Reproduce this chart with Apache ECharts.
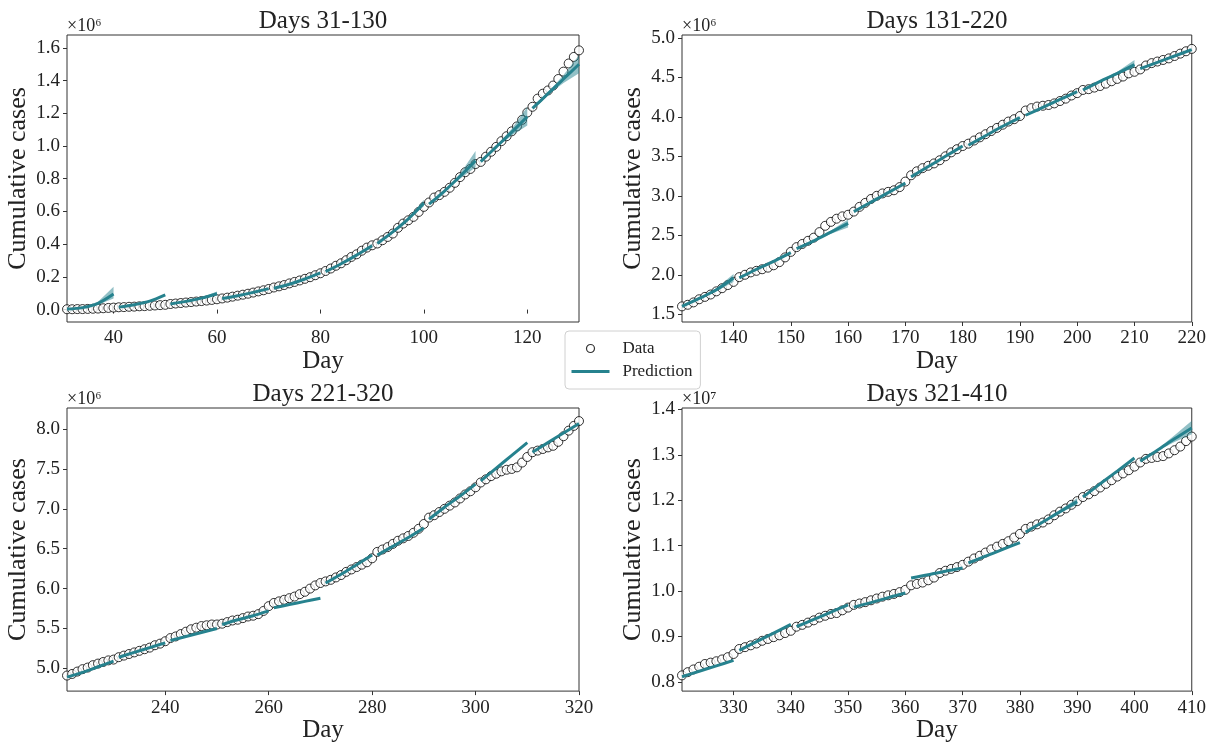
<!DOCTYPE html>
<html>
<head>
<meta charset="utf-8">
<script src="https://cdn.jsdelivr.net/npm/echarts@6/dist/echarts.min.js"></script>
<style>
  html, body { margin: 0; padding: 0; background: #fff; }
  #chart { width: 1209px; height: 744px; }
</style>
</head>
<body>
<div id="chart"></div>
<script>
var teal = '#26828e';
var serif = 'Liberation Serif';
var txt = '#222';

// days of every prediction point inside a 10 day window
var offs = [0, 3, 6, 9];

// ---- panel 1 : days 31-130 (x1e6) ----
var start1 = 31;
var cases1 = [
  0.002, 0.002, 0.003, 0.003, 0.004, 0.005, 0.006, 0.008, 0.010, 0.012,
  0.014, 0.015, 0.017, 0.018, 0.020, 0.021, 0.023, 0.025, 0.027, 0.029,
  0.034, 0.037, 0.040, 0.043, 0.046, 0.049, 0.052, 0.055, 0.059, 0.063,
  0.068, 0.073, 0.079, 0.085, 0.091, 0.097, 0.104, 0.111, 0.118, 0.126,
  0.135, 0.142, 0.150, 0.160, 0.169, 0.178, 0.188, 0.198, 0.210, 0.222,
  0.236, 0.251, 0.268, 0.283, 0.302, 0.322, 0.338, 0.360, 0.379, 0.393,
  0.404, 0.424, 0.444, 0.465, 0.500, 0.526, 0.546, 0.567, 0.597, 0.628,
  0.655, 0.685, 0.700, 0.720, 0.745, 0.775, 0.810, 0.840, 0.860, 0.890,
  0.903, 0.935, 0.965, 0.995, 1.030, 1.060, 1.090, 1.120, 1.160, 1.205,
  1.240, 1.290, 1.320, 1.340, 1.370, 1.410, 1.455, 1.505, 1.545, 1.585
];
var predStart1 = [31, 41, 51, 61, 71, 81, 91, 101, 111, 121];
var pred1 = [
  [0.003, 0.012, 0.038, 0.095],
  [0.015, 0.030, 0.052, 0.090],
  [0.034, 0.050, 0.070, 0.097],
  [0.068, 0.085, 0.105, 0.128],
  [0.130, 0.155, 0.187, 0.224],
  [0.232, 0.280, 0.333, 0.390],
  [0.404, 0.475, 0.555, 0.650],
  [0.645, 0.725, 0.815, 0.910],
  [0.905, 0.995, 1.085, 1.180],
  [1.230, 1.320, 1.410, 1.500]
];
var bandLo1 = [
  [0.003, 0.011, 0.030, 0.068], null, [0.034, 0.049, 0.066, 0.087], null, null,
  [0.232, 0.279, 0.330, 0.378], [0.404, 0.474, 0.550, 0.632], [0.645, 0.724, 0.800, 0.870],
  [0.905, 0.990, 1.065, 1.125], [1.230, 1.312, 1.385, 1.445]
];
var bandHi1 = [
  [0.003, 0.013, 0.048, 0.140], null, [0.034, 0.051, 0.074, 0.110], null, null,
  [0.232, 0.281, 0.336, 0.402], [0.404, 0.476, 0.560, 0.672], [0.645, 0.726, 0.830, 0.970],
  [0.905, 1.000, 1.105, 1.240], [1.230, 1.328, 1.435, 1.555]
];

// ---- panel 2 : days 131-220 (x1e6) ----
var start2 = 131;
var cases2 = [
  1.60, 1.62, 1.65, 1.69, 1.72, 1.75, 1.79, 1.83, 1.87, 1.91,
  1.97, 2.00, 2.03, 2.05, 2.07, 2.09, 2.12, 2.16, 2.22, 2.29,
  2.35, 2.39, 2.43, 2.47, 2.54, 2.62, 2.67, 2.71, 2.74, 2.76,
  2.80, 2.86, 2.91, 2.96, 3.00, 3.03, 3.05, 3.07, 3.11, 3.18,
  3.26, 3.31, 3.35, 3.38, 3.41, 3.45, 3.50, 3.55, 3.59, 3.63,
  3.66, 3.70, 3.74, 3.78, 3.82, 3.86, 3.90, 3.94, 3.97, 4.01,
  4.08, 4.11, 4.13, 4.14, 4.15, 4.17, 4.20, 4.23, 4.27, 4.30,
  4.34, 4.35, 4.37, 4.39, 4.42, 4.45, 4.48, 4.51, 4.55, 4.57,
  4.60, 4.65, 4.68, 4.70, 4.72, 4.74, 4.77, 4.80, 4.83, 4.86
];
var predStart2 = [131, 141, 151, 161, 171, 181, 191, 201, 211];
var pred2 = [
  [1.60, 1.70, 1.81, 1.96],
  [1.96, 2.07, 2.17, 2.28],
  [2.33, 2.43, 2.54, 2.65],
  [2.80, 2.92, 3.04, 3.16],
  [3.24, 3.37, 3.50, 3.63],
  [3.64, 3.76, 3.88, 3.99],
  [4.02, 4.12, 4.22, 4.32],
  [4.34, 4.45, 4.55, 4.66],
  [4.61, 4.69, 4.77, 4.85]
];
var bandLo2 = [
  [1.60, 1.69, 1.79, 1.91], null, [2.33, 2.42, 2.52, 2.60], null, null, null, null,
  [4.34, 4.44, 4.54, 4.62], null
];
var bandHi2 = [
  [1.60, 1.71, 1.83, 2.01], null, [2.33, 2.44, 2.56, 2.70], null, null, null, null,
  [4.34, 4.46, 4.57, 4.72], null
];

// ---- panel 3 : days 221-320 (x1e6) ----
var start3 = 221;
var cases3 = [
  4.91, 4.93, 4.96, 4.99, 5.01, 5.04, 5.06, 5.08, 5.10, 5.11,
  5.14, 5.16, 5.18, 5.20, 5.22, 5.24, 5.26, 5.29, 5.31, 5.34,
  5.38, 5.40, 5.43, 5.46, 5.49, 5.51, 5.53, 5.54, 5.55, 5.55,
  5.56, 5.58, 5.60, 5.61, 5.63, 5.65, 5.66, 5.68, 5.72, 5.78,
  5.82, 5.84, 5.86, 5.88, 5.90, 5.93, 5.96, 6.00, 6.04, 6.07,
  6.09, 6.11, 6.14, 6.17, 6.21, 6.24, 6.27, 6.30, 6.33, 6.38,
  6.46, 6.49, 6.52, 6.56, 6.60, 6.63, 6.66, 6.70, 6.75, 6.81,
  6.89, 6.92, 6.96, 7.00, 7.04, 7.08, 7.13, 7.18, 7.22, 7.27,
  7.33, 7.37, 7.41, 7.44, 7.47, 7.49, 7.50, 7.52, 7.58, 7.65,
  7.71, 7.73, 7.75, 7.77, 7.79, 7.84, 7.91, 7.98, 8.04, 8.10
];
var predStart3 = [221, 231, 241, 251, 261, 271, 281, 291, 301, 311];
var pred3 = [
  [4.89, 4.95, 5.02, 5.09],
  [5.14, 5.20, 5.26, 5.32],
  [5.35, 5.40, 5.45, 5.50],
  [5.55, 5.61, 5.66, 5.72],
  [5.76, 5.80, 5.84, 5.88],
  [6.07, 6.18, 6.30, 6.42],
  [6.42, 6.53, 6.64, 6.76],
  [6.87, 7.02, 7.16, 7.31],
  [7.35, 7.51, 7.67, 7.83],
  [7.71, 7.83, 7.95, 8.07]
];
var bandLo3 = [null, null, null, null, null, null, null, null, null, null];
var bandHi3 = [null, null, null, null, null, null, null, null, null, null];

// ---- panel 4 : days 321-410 (x1e7) ----
var start4 = 321;
var cases4 = [
  0.815, 0.822, 0.828, 0.834, 0.840, 0.843, 0.846, 0.850, 0.855, 0.862,
  0.873, 0.877, 0.881, 0.885, 0.891, 0.895, 0.899, 0.903, 0.908, 0.913,
  0.922, 0.926, 0.931, 0.936, 0.942, 0.946, 0.950, 0.952, 0.958, 0.964,
  0.970, 0.973, 0.976, 0.980, 0.984, 0.988, 0.991, 0.994, 0.998, 1.003,
  1.013, 1.016, 1.019, 1.024, 1.030, 1.040, 1.045, 1.049, 1.053, 1.058,
  1.065, 1.072, 1.078, 1.085, 1.092, 1.098, 1.104, 1.110, 1.118, 1.126,
  1.137, 1.142, 1.147, 1.151, 1.158, 1.167, 1.175, 1.182, 1.190, 1.198,
  1.207, 1.213, 1.220, 1.228, 1.236, 1.244, 1.252, 1.259, 1.266, 1.274,
  1.283, 1.291, 1.293, 1.295, 1.297, 1.303, 1.310, 1.318, 1.330, 1.340
];
var predStart4 = [321, 331, 341, 351, 361, 371, 381, 391, 401];
var pred4 = [
  [0.812, 0.824, 0.836, 0.848],
  [0.870, 0.889, 0.908, 0.927],
  [0.922, 0.938, 0.954, 0.970],
  [0.965, 0.975, 0.986, 0.996],
  [1.029, 1.036, 1.044, 1.051],
  [1.062, 1.077, 1.092, 1.107],
  [1.130, 1.152, 1.175, 1.197],
  [1.207, 1.236, 1.264, 1.293],
  [1.286, 1.310, 1.335, 1.359]
];
var bandLo4 = [null, null, null, null, null, null, [1.130, 1.151, 1.172, 1.190], null, [1.286, 1.308, 1.328, 1.345]];
var bandHi4 = [null, null, null, null, null, null, [1.130, 1.153, 1.178, 1.205], null, [1.286, 1.312, 1.343, 1.375]];

// axis settings
var xRange = [[31, 130], [131, 220], [221, 320], [321, 410]];
var yRange = [[-0.076, 1.679], [1.402, 5.036], [4.715, 8.264], [0.7804, 1.4028]];
var xTicks = [
  [40, 60, 80, 100, 120],
  [140, 150, 160, 170, 180, 190, 200, 210, 220],
  [240, 260, 280, 300, 320],
  [330, 340, 350, 360, 370, 380, 390, 400, 410]
];
var yTicks = [
  [0, 0.2, 0.4, 0.6, 0.8, 1.0, 1.2, 1.4, 1.6],
  [1.5, 2.0, 2.5, 3.0, 3.5, 4.0, 4.5, 5.0],
  [5.0, 5.5, 6.0, 6.5, 7.0, 7.5, 8.0],
  [0.8, 0.9, 1.0, 1.1, 1.2, 1.3, 1.4]
];
var titles = ['Days 31-130', 'Days 131-220', 'Days 221-320', 'Days 321-410'];
var scales = ['×10⁶', '×10⁶', '×10⁶', '×10⁷'];

var panels = [
  {start: start1, cases: cases1, ps: predStart1, pred: pred1, lo: bandLo1, hi: bandHi1},
  {start: start2, cases: cases2, ps: predStart2, pred: pred2, lo: bandLo2, hi: bandHi2},
  {start: start3, cases: cases3, ps: predStart3, pred: pred3, lo: bandLo3, hi: bandHi3},
  {start: start4, cases: cases4, ps: predStart4, pred: pred4, lo: bandLo4, hi: bandHi4}
];

var gridPos = [
  {left: 67, top: 35, width: 512, height: 287},
  {left: 682, top: 35, width: 510, height: 287},
  {left: 67, top: 408, width: 512, height: 286},
  {left: 682, top: 408, width: 510, height: 286}
];

var grid = [], xAxis = [], yAxis = [], series = [], graphic = [];

gridPos.forEach(function (g, i) {
  grid.push({
    left: g.left, top: g.top, width: g.width, height: g.height,
    show: true, borderColor: '#333', borderWidth: 1, backgroundColor: '#fff'
  });
  xAxis.push({
    type: 'value', gridIndex: i, min: xRange[i][0], max: xRange[i][1],
    name: 'Day', nameLocation: 'middle', nameGap: 24,
    nameTextStyle: {fontFamily: serif, fontSize: 25, color: txt},
    axisLine: {show: false},
    axisTick: {show: true, length: 4, customValues: xTicks[i], lineStyle: {color: '#333'}},
    axisLabel: {customValues: xTicks[i], fontFamily: serif, fontSize: 19, color: txt, margin: 7},
    splitLine: {show: false}
  });
  yAxis.push({
    type: 'value', gridIndex: i, min: yRange[i][0], max: yRange[i][1],
    name: 'Cumulative cases', nameLocation: 'middle', nameGap: 36,
    nameTextStyle: {fontFamily: serif, fontSize: 26, color: txt},
    axisLine: {show: false},
    axisTick: {show: true, length: 4, customValues: yTicks[i], lineStyle: {color: '#333'}},
    axisLabel: {
      customValues: yTicks[i], fontFamily: serif, fontSize: 19, color: txt, margin: 7,
      formatter: function (v) { return v.toFixed(1); }
    },
    splitLine: {show: false}
  });
  graphic.push({
    type: 'text', x: g.left + g.width / 2, y: g.top - 14,
    style: {text: titles[i], fontFamily: serif, fontSize: 25, fill: txt, align: 'center', verticalAlign: 'middle'}
  });
  graphic.push({
    type: 'text', x: g.left, y: g.top,
    style: {text: scales[i], fontFamily: serif, fontSize: 18, fill: txt, align: 'left', verticalAlign: 'bottom'}
  });
});

panels.forEach(function (p, i) {
  series.push({
    type: 'scatter', name: 'Data', xAxisIndex: i, yAxisIndex: i,
    data: p.cases.map(function (v, k) { return [p.start + k, v]; }),
    symbol: 'circle', symbolSize: 9,
    itemStyle: {color: '#fff', borderColor: '#000', borderWidth: 1},
    z: 2
  });

  var bandItems = [];
  p.ps.forEach(function (d, k) { if (p.lo[k]) bandItems.push([d, p.pred[k][0], k]); });
  series.push({
    type: 'custom', name: 'band', xAxisIndex: i, yAxisIndex: i,
    data: bandItems, encode: {x: 0, y: 1},
    renderItem: function (params, api) {
      var k = api.value(2);
      var d0 = p.ps[k];
      var pts = [];
      for (var j = 0; j < offs.length; j++) pts.push(api.coord([d0 + offs[j], p.hi[k][j]]));
      for (var j2 = offs.length - 1; j2 >= 0; j2--) pts.push(api.coord([d0 + offs[j2], p.lo[k][j2]]));
      return {type: 'polygon', shape: {points: pts}, style: {fill: teal, opacity: 0.5}};
    },
    silent: true, z: 3
  });

  var line = [];
  p.ps.forEach(function (d, k) {
    offs.forEach(function (o, j) { line.push([d + o, p.pred[k][j]]); });
    line.push([d + 9.5, '-']);
  });
  series.push({
    type: 'line', name: 'Prediction', xAxisIndex: i, yAxisIndex: i,
    data: line, symbol: 'none', smooth: 0.3, connectNulls: false,
    lineStyle: {color: teal, width: 3}, itemStyle: {color: teal},
    z: 4
  });
});

var chart = echarts.init(document.getElementById('chart'));
chart.setOption({
  animation: false,
  backgroundColor: '#fff',
  grid: grid,
  xAxis: xAxis,
  yAxis: yAxis,
  graphic: graphic,
  legend: {
    orient: 'vertical', left: 565, top: 331,
    padding: [9, 8, 9, 5], itemGap: 6,
    itemWidth: 38, itemHeight: 8,
    backgroundColor: '#fff', borderColor: '#d0d0d0', borderWidth: 1, borderRadius: 4,
    selectedMode: false,
    textStyle: {fontFamily: serif, fontSize: 17, color: txt, lineHeight: 16, padding: [0, 0, 0, 8]},
    data: [
      {name: 'Data', icon: 'circle', itemStyle: {color: '#fff', borderColor: '#000', borderWidth: 1.2}},
      {name: 'Prediction', itemStyle: {opacity: 0}, lineStyle: {color: teal, width: 3}}
    ]
  },
  series: series
});
</script>
</body>
</html>
